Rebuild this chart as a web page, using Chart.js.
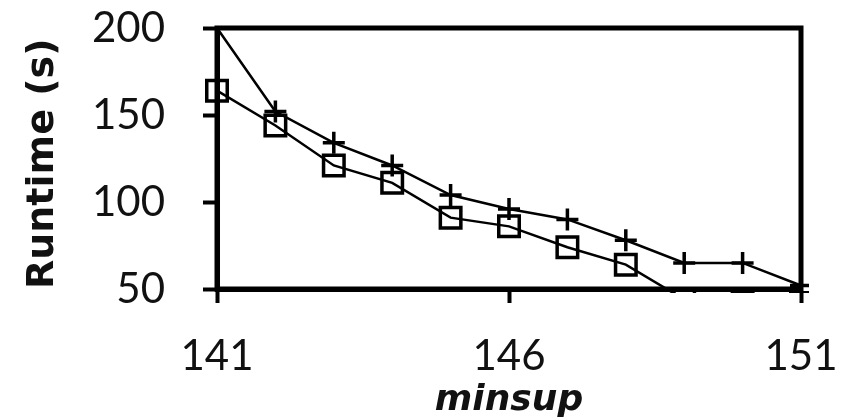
<!DOCTYPE html>
<html>
<head>
<meta charset="utf-8">
<script src="https://cdn.jsdelivr.net/npm/chart.js@4"></script>
<style>
  html, body { margin: 0; padding: 0; background: #fff; }
  #wrap { width: 854px; height: 419px; }
</style>
</head>
<body>
<div id="wrap"><canvas id="runtimeChart" width="854" height="419"></canvas></div>
<script>
// values
const minsup = [141, 142, 143, 144, 145, 146, 147, 148, 149, 150, 151];
const plusRuntime = [200, 152, 134, 121, 104, 96, 90, 78, 65, 65, 52];
const squareRuntime = [164, 144, 121, 111, 91, 86, 74, 64, 44, 42, 42];
const xTicks = [141, 146, 151];
const yTicks = [50, 100, 150, 200];

const tickFont = 'Lato, "Open Sans", sans-serif';
const titleFont = '"DejaVu Sans", sans-serif';

// thick box around the plot area (top + right edges too)
const frame = {
    id: 'frame',
    afterDatasetsDraw(chart) {
        const { ctx, chartArea: a } = chart;
        ctx.save();
        ctx.strokeStyle = '#000';
        ctx.lineWidth = 5;
        ctx.strokeRect(a.left, a.top, a.right - a.left, a.bottom - a.top);
        ctx.restore();
    }
};

function toPoints(vals) {
    return minsup.map((m, i) => ({ x: m, y: vals[i] }));
}

const clipBox = { left: 20, top: 5, right: 8, bottom: 4 };

const ctx = document.getElementById('runtimeChart').getContext('2d');
new Chart(ctx, {
    type: 'scatter',
    data: {
        datasets: [
            {
                label: 'plus',
                data: toPoints(plusRuntime),
                showLine: true,
                borderColor: '#000',
                borderWidth: 2.5,
                pointStyle: 'cross',
                pointRadius: minsup.map((m, i) => i === 0 ? 0 : 11),
                pointBorderWidth: 3.5,
                pointBorderColor: '#000',
                clip: clipBox
            },
            {
                label: 'square',
                data: toPoints(squareRuntime),
                showLine: true,
                borderColor: '#000',
                borderWidth: 2.5,
                pointStyle: 'rect',
                pointRadius: 14.5,
                pointBorderWidth: 3.5,
                pointBorderColor: '#000',
                pointBackgroundColor: 'rgba(255,255,255,0)',
                clip: clipBox
            }
        ]
    },
    options: {
        responsive: false,
        animation: false,
        layout: { padding: { top: 28, right: 53, bottom: 0, left: 0 } },
        plugins: { legend: { display: false }, tooltip: { enabled: false } },
        scales: {
            x: {
                type: 'linear',
                min: 141,
                max: 151,
                afterBuildTicks: axis => { axis.ticks = xTicks.map(v => ({ value: v })); },
                afterFit: axis => {
                    axis.height = 130;
                    axis.paddingLeft = 0;
                    axis.paddingRight = 0;
                },
                grid: { drawOnChartArea: false, tickLength: 14, tickWidth: 4, tickColor: '#000' },
                border: { color: '#000', width: 5 },
                ticks: { color: '#111', padding: 28, font: { family: tickFont, size: 42 }, maxRotation: 0 },
                title: {
                    display: true,
                    text: 'minsup',
                    color: '#111',
                    padding: { top: 0, bottom: 0 },
                    font: { family: titleFont, size: 36, weight: 'bold', style: 'italic', lineHeight: 1.0 }
                }
            },
            y: {
                min: 50,
                max: 200,
                afterBuildTicks: axis => { axis.ticks = yTicks.map(v => ({ value: v })); },
                afterFit: axis => {
                    axis.width = 217;
                    axis.paddingTop = 0;
                    axis.paddingBottom = 0;
                },
                grid: { drawOnChartArea: false, tickLength: 14, tickWidth: 4, tickColor: '#000' },
                border: { color: '#000', width: 5 },
                ticks: { color: '#111', padding: 38, font: { family: tickFont, size: 42 } },
                title: {
                    display: true,
                    text: 'Runtime (s)',
                    color: '#111',
                    align: 'start',
                    padding: { top: 24, bottom: 0 },
                    font: { family: titleFont, size: 38, weight: 'bold', lineHeight: 1.0 }
                }
            }
        }
    },
    plugins: [frame]
});
</script>
</body>
</html>
